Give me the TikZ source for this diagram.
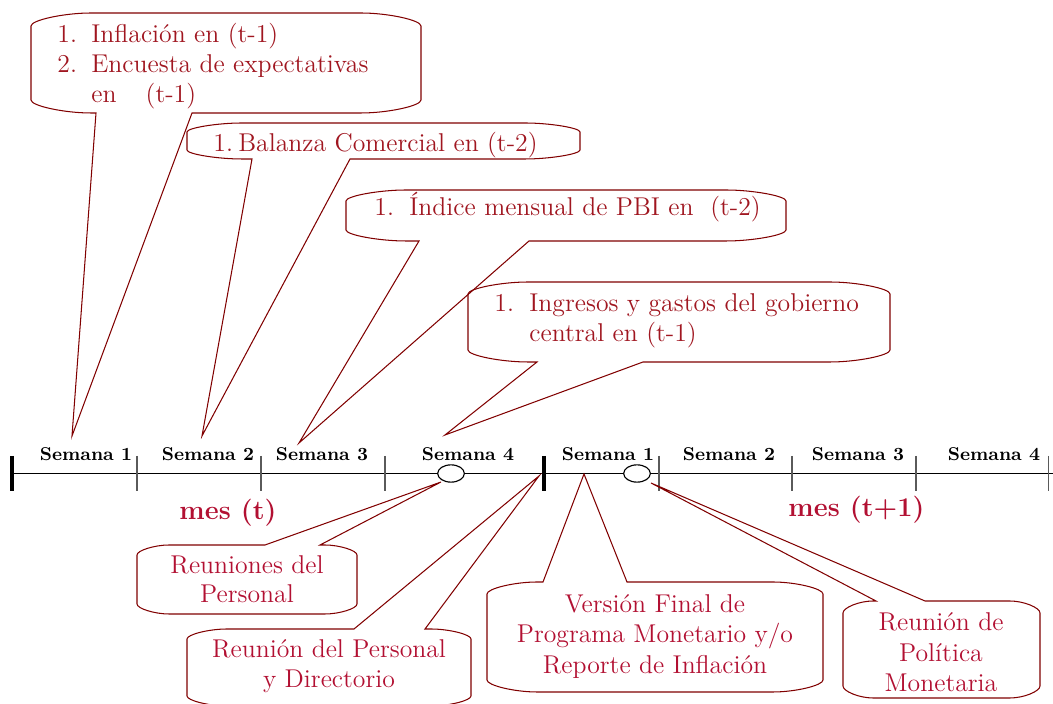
\documentclass[tikz,border=0pt]{standalone}
\usepackage{fontspec}
\usetikzlibrary{shapes.geometric}
\definecolor{txtA}{RGB}{160,22,32}
\definecolor{txtB}{RGB}{178,16,50}
\definecolor{lnc}{RGB}{128,0,0}
\definecolor{tick}{RGB}{90,90,90}
\newcommand\bodyfont{\fontsize{12.35}{14.8}\selectfont}
\def\ck{0.45}
% pointer on bottom edge: l,t,r,b,pa,pb,tip
\newcommand\calloutdown[7]{%
 \draw[cl] (#1+\crx,#2) -- (#3-\crx,#2)
  .. controls (#3-\crx+\ck*\crx,#2) and (#3,#2+\cry-\ck*\cry) .. (#3,#2+\cry)
  -- (#3,#4-\cry)
  .. controls (#3,#4-\cry+\ck*\cry) and (#3-\crx+\ck*\crx,#4) .. (#3-\crx,#4)
  -- (#6,#4) -- (#7) -- (#5,#4) -- (#1+\crx,#4)
  .. controls (#1+\crx-\ck*\crx,#4) and (#1,#4-\cry+\ck*\cry) .. (#1,#4-\cry)
  -- (#1,#2+\cry)
  .. controls (#1,#2+\cry-\ck*\cry) and (#1+\crx-\ck*\crx,#2) .. cycle;}
% pointer on top edge: l,t,r,b,pa,pb,tip
\newcommand\calloutup[7]{%
 \draw[cl] (#1+\crx,#2) -- (#5,#2) -- (#7) -- (#6,#2) -- (#3-\crx,#2)
  .. controls (#3-\crx+\ck*\crx,#2) and (#3,#2+\cry-\ck*\cry) .. (#3,#2+\cry)
  -- (#3,#4-\cry)
  .. controls (#3,#4-\cry+\ck*\cry) and (#3-\crx+\ck*\crx,#4) .. (#3-\crx,#4)
  -- (#1+\crx,#4)
  .. controls (#1+\crx-\ck*\crx,#4) and (#1,#4-\cry+\ck*\cry) .. (#1,#4-\cry)
  -- (#1,#2+\cry)
  .. controls (#1,#2+\cry-\ck*\cry) and (#1+\crx-\ck*\crx,#2) .. cycle;}
\tikzset{
  cl/.style={draw=lnc, line width=0.5pt, line join=miter},
  up/.style={anchor=base west, inner sep=0pt, text=txtA, font=\bodyfont},
  low/.style={anchor=base, inner sep=0pt, text=txtB, font=\bodyfont},
  wk/.style={anchor=base, inner sep=0pt, font=\fontsize{8.9}{10}\selectfont\bfseries},
  mes/.style={anchor=base, inner sep=0pt, text=txtB, font=\fontsize{13}{15}\selectfont\bfseries},
  tl/.style={line width=0.55pt, black},
  thick tick/.style={line width=1.7pt, black},
  thin tick/.style={line width=0.5pt, tick},
  ell/.style={ellipse, draw, line width=0.55pt, fill=white, minimum width=12.8pt, minimum height=8.3pt, inner sep=0pt}
}
\begin{document}
\begin{tikzpicture}[x=0.48pt,y=-0.48pt]
\useasboundingbox (0,0) rectangle (1053,704);
% timeline
\coordinate (L) at (12,473.5);
\coordinate (R) at (1053,473.5);
\draw[tl] (L) -- (R);
\draw[thick tick] (12,456) -- (12,491);
\draw[thick tick] (544,456) -- (544,491);
\foreach \x in {137,261,385,659,792,916,1048.5}{\draw[thin tick] (\x,456) -- (\x,491);}
\node[ell] (e1) at (451,473.5) {};
\node[ell] (e2) at (637,473.5) {};
% week labels
\node[wk] (w1) at (86,461) {Semana 1};
\node[wk] (w2) at (208,461) {Semana 2};
\node[wk] (w3) at (322,461) {Semana 3};
\node[wk] (w4) at (468,461) {Semana 4};
\node[wk] (w5) at (608,461) {Semana 1};
\node[wk] (w6) at (729,461) {Semana 2};
\node[wk] (w7) at (858,461) {Semana 3};
\node[wk] (w8) at (994,461) {Semana 4};
\node[mes] (m1) at (228,520) {mes (t)};
\node[mes] (m2) at (856.5,517) {mes (t+1)};
% tips
\coordinate (tip1) at (72,436);
\coordinate (tip2) at (202,436);
\coordinate (tip3) at (299,443);
\coordinate (tip4) at (445,435);
\coordinate (tip5) at (441,482);
\coordinate (tip6) at (539,476);
\coordinate (tip7) at (584,474);
\coordinate (tip8) at (651,483);
% upper callouts
\def\crx{60}\def\cry{13}
\calloutdown{31}{13}{421}{113}{96}{192}{tip1}
\def\crx{55}\def\cry{9}
\calloutdown{187}{123}{580}{159}{252}{350}{tip2}
\def\crx{60}\def\cry{11}
\calloutdown{346}{190}{786}{241}{419}{529}{tip3}
\def\crx{60}\def\cry{12}
\calloutdown{468}{282}{890}{362}{537}{643}{tip4}
% lower callouts
\def\crx{32}\def\cry{10}
\calloutup{137}{545}{357}{614}{265}{320}{tip5}
\def\crx{40}\def\cry{10}
\calloutup{187}{629}{471}{706}{354}{425}{tip6}
\def\crx{50}\def\cry{12}
\calloutup{487}{582}{823}{692}{543}{627}{tip7}
\def\crx{30}\def\cry{12}
\calloutup{843}{601}{1040}{698}{876}{925}{tip8}
% upper texts
\node[up] (a1) at (57,43) {\makebox[16.3pt][l]{1.}Inflación en (t-1)};
\node[up] (a2) at (57,73) {\makebox[16.3pt][l]{2.}Encuesta de expectativas};
\node[up] (a3) at (57,103) {\hspace*{16.3pt}en\hspace{14pt}(t-1)};
\node[up] (b1) at (213,152) {\makebox[12pt][l]{1.}Balanza Comercial en (t-2)};
\node[up] (c1) at (374,216) {\makebox[16.8pt][l]{1.}Índice mensual de PBI en\ \ (t-2)};
\node[up] (d1) at (494,312) {\makebox[16.8pt][l]{1.}Ingresos y gastos del gobierno};
\node[up] (d2) at (494,342) {\hspace*{16.8pt}central en (t-1)};
% lower texts
\node[low] (f1) at (247,574) {Reuniones del};
\node[low] (f2) at (247,603) {Personal};
\node[low] (g1) at (329,658) {Reunión del Personal};
\node[low] (g2) at (329,688) {y Directorio};
\node[low] (h1) at (655,613) {Versión Final de};
\node[low] (h2) at (655,643) {Programa Monetario y/o};
\node[low] (h3) at (655,674) {Reporte de Inflación};
\node[low] (k1) at (941,631) {Reunión de};
\node[low] (k2) at (941,662) {Política};
\node[low] (k3) at (941,692) {Monetaria};
\end{tikzpicture}
\end{document}
